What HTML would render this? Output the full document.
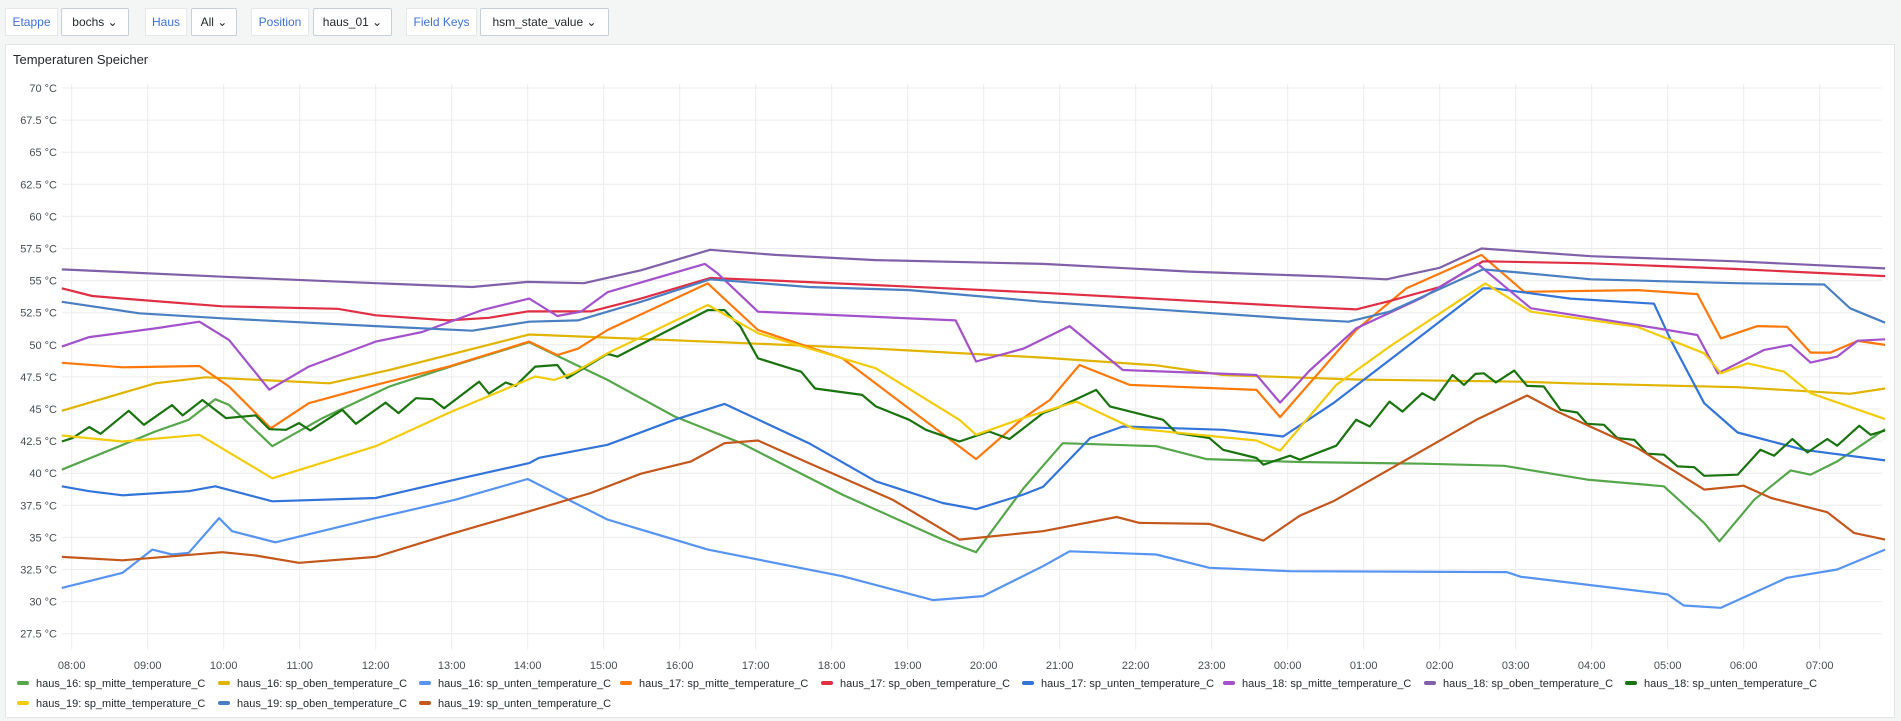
<!DOCTYPE html>
<html><head><meta charset="utf-8">
<style>
body{margin:0;width:1901px;height:721px;background:#f4f5f5;font-family:"Liberation Sans",sans-serif;overflow:hidden;position:relative}
.lbl,.sel{position:absolute;top:8px;height:28px;box-sizing:border-box;font-size:12px;line-height:26px;text-align:center}
.lbl{background:#fff;border:1px solid #e6e7e8;color:#3d71d9}
.sel{background:#fff;border:1px solid #c7d0d9;color:#24292e;border-radius:2px}
#panel{position:absolute;left:5px;top:44px;width:1890px;height:674px;background:#fff;border:1px solid #e4e5e6;box-sizing:border-box}
#title{position:absolute;left:13px;top:52px;font-size:13px;color:#24292e}
svg{position:absolute;left:0;top:0}
</style></head><body>
<div class="lbl" style="left:5px;width:53px">Etappe</div>
<div class="sel" style="left:61px;width:68px">bochs ⌄</div>
<div class="lbl" style="left:145px;width:42px">Haus</div>
<div class="sel" style="left:191px;width:46px">All ⌄</div>
<div class="lbl" style="left:251px;width:58px">Position</div>
<div class="sel" style="left:313px;width:79px">haus_01 ⌄</div>
<div class="lbl" style="left:406px;width:71px">Field Keys</div>
<div class="sel" style="left:480px;width:129px">hsm_state_value ⌄</div>
<div id="panel"></div>
<div id="title">Temperaturen Speicher</div>
<svg id="chart" width="1901" height="721"></svg>
<script>
const xTickLabels=["08:00","09:00","10:00","11:00","12:00","13:00","14:00","15:00","16:00","17:00","18:00","19:00","20:00","21:00","22:00","23:00","00:00","01:00","02:00","03:00","04:00","05:00","06:00","07:00"];
const yTicks=[27.5,30,32.5,35,37.5,40,42.5,45,47.5,50,52.5,55,57.5,60,62.5,65,67.5,70];
const seriesNames=["haus_16: sp_mitte_temperature_C","haus_16: sp_oben_temperature_C","haus_16: sp_unten_temperature_C","haus_17: sp_mitte_temperature_C","haus_17: sp_oben_temperature_C","haus_17: sp_unten_temperature_C","haus_18: sp_mitte_temperature_C","haus_18: sp_oben_temperature_C","haus_18: sp_unten_temperature_C","haus_19: sp_mitte_temperature_C","haus_19: sp_oben_temperature_C","haus_19: sp_unten_temperature_C"];
const seriesColors=["#56a64b","#e0b400","#5794f2","#ff780a","#e02f44","#3274d9","#a352cc","#8060a8","#19730e","#f2cc0c","#4a7fc1","#c4571c"];
// times = hours after 08:00
const h16mT=[-0.13,1.1,1.54,1.89,2.07,2.64,3.3,4.18,5.05,6.02,6.37,7.05,7.93,8.81,10.14,11.46,11.9,12.52,13.04,14.27,14.93,16.16,17.78,18.85,19.94,20.95,21.48,21.68,22.14,22.62,22.88,23.23,23.86];
const h16mV=[40.27,43.25,44.16,45.76,45.32,42.1,44.29,46.75,48.43,50.2,49.2,47.27,44.42,42.34,38.33,34.83,33.85,38.8,42.34,42.1,41.1,40.87,40.74,40.58,39.5,38.98,36.13,34.7,37.94,40.22,39.88,40.92,43.43];
const h16oT=[-0.13,1.1,1.76,3.39,4.18,6.02,8.37,10.58,12.78,14.27,15.15,16.9,19.1,19.72,21.92,23.4,23.86];
const h16oV=[44.86,47.0,47.47,47.0,48.04,50.8,50.25,49.7,49.0,48.4,47.65,47.3,47.13,47.0,46.7,46.18,46.6];
const h16uT=[-0.13,0.67,1.06,1.32,1.54,1.94,2.11,2.68,4.0,5.05,6.0,7.05,8.37,10.14,11.33,11.99,12.78,13.13,14.27,14.97,16.03,18.88,19.07,21.0,21.21,21.7,22.57,23.23,23.86];
const h16uV=[31.07,32.24,34.05,33.67,33.8,36.5,35.48,34.62,36.5,37.94,39.55,36.39,34.05,31.98,30.12,30.43,32.76,33.92,33.67,32.63,32.37,32.3,31.93,30.56,29.7,29.52,31.85,32.5,34.05];
const h17mT=[-0.13,0.67,1.68,2.07,2.62,3.12,4.0,4.96,6.02,6.39,6.66,7.05,8.37,9.03,10.14,11.9,12.52,12.87,13.26,13.92,15.59,15.9,16.9,17.56,18.55,19.11,20.6,21.39,21.7,22.18,22.57,22.88,23.14,23.5,23.86];
const h17mV=[48.6,48.25,48.35,46.75,43.5,45.45,46.88,48.3,50.25,49.2,49.7,51.15,54.78,51.15,48.95,41.1,44.29,45.7,48.43,46.88,46.49,44.37,51.15,54.39,57.0,54.13,54.26,53.95,50.5,51.46,51.4,49.39,49.39,50.3,49.99];
const h17oT=[-0.13,0.27,0.89,1.98,3.5,4.0,4.96,5.49,6.0,6.83,7.49,8.4,9.26,10.58,12.78,16.16,16.9,17.34,18.0,18.57,19.99,21.9,23.86];
const h17oV=[54.4,53.8,53.5,53.0,52.8,52.3,51.9,52.1,52.6,52.6,53.6,55.2,55.0,54.65,54.05,52.97,52.76,53.4,54.5,56.5,56.35,55.9,55.35];
const h17uT=[-0.13,0.23,0.67,1.54,1.89,2.64,4.0,5.05,6.02,6.15,7.05,7.93,8.59,9.7,10.58,11.46,11.9,12.52,12.78,13.4,13.83,15.15,15.94,16.6,18.57,18.71,19.72,20.82,21.04,21.48,21.92,22.79,23.86];
const h17uV=[38.98,38.6,38.28,38.6,38.98,37.81,38.07,39.5,40.79,41.2,42.21,44.16,45.4,42.34,39.37,37.68,37.2,38.33,38.93,42.73,43.64,43.38,42.86,45.45,54.39,54.39,53.6,53.2,50.38,45.45,43.17,41.82,41.0];
const h18mT=[-0.13,0.23,1.1,1.68,2.07,2.6,3.12,4.0,4.61,5.4,6.02,6.39,6.7,7.05,8.33,8.5,9.03,11.63,11.9,12.52,13.13,13.83,15.59,15.9,16.29,16.9,17.78,18.5,19.2,20.6,21.39,21.66,22.27,22.62,22.88,23.23,23.5,23.86];
const h18mV=[49.86,50.6,51.28,51.8,50.38,46.5,48.3,50.25,51.0,52.7,53.6,52.24,52.58,54.1,56.3,55.56,52.58,51.9,48.7,49.7,51.46,48.04,47.65,45.5,48.0,51.28,53.7,56.3,52.84,51.54,50.76,47.78,49.6,49.99,48.61,49.08,50.32,50.43];
const h18oT=[-0.13,1.98,4.0,5.27,6.0,6.74,7.49,8.4,9.26,10.58,12.78,14.71,16.16,16.6,17.3,18.0,18.55,19.99,21.9,23.86];
const h18oV=[55.87,55.3,54.8,54.5,54.9,54.8,55.8,57.4,57.0,56.6,56.3,55.7,55.4,55.3,55.1,56.0,57.5,56.9,56.5,55.95];
const h18uT=[-0.13,0.01,0.23,0.38,0.75,0.95,1.32,1.46,1.72,2.03,2.42,2.6,2.82,2.99,3.14,3.56,3.74,4.13,4.3,4.53,4.75,4.9,5.36,5.49,5.71,5.84,6.1,6.39,6.52,7.05,7.18,8.37,8.59,8.8,9.03,9.6,9.78,10.4,10.58,11.02,11.24,11.68,12.07,12.34,12.78,12.96,13.48,13.66,14.36,14.54,14.97,15.15,15.59,15.68,16.03,16.16,16.64,16.9,17.08,17.34,17.51,17.77,17.93,18.17,18.32,18.47,18.58,18.74,18.98,19.15,19.37,19.59,19.81,19.94,20.16,20.34,20.56,20.73,20.95,21.13,21.35,21.48,21.92,22.22,22.4,22.64,22.84,23.1,23.23,23.52,23.67,23.86];
const h18uV=[42.47,42.73,43.6,43.07,44.86,43.77,45.3,44.5,45.7,44.29,44.5,43.43,43.38,43.9,43.33,44.94,43.85,45.5,44.68,45.84,45.76,45.06,47.13,46.2,47.06,46.8,48.3,48.43,47.4,49.3,49.08,52.7,52.7,51.4,48.95,47.9,46.6,46.1,45.2,44.16,43.38,42.47,43.25,42.66,44.68,45.06,46.49,45.2,44.16,43.12,42.73,41.82,41.18,40.66,41.36,41.05,42.14,44.16,43.64,45.58,44.8,46.23,45.7,47.65,46.88,47.73,47.78,47.06,47.99,46.8,46.75,44.94,44.73,43.85,43.77,42.73,42.6,41.52,41.44,40.53,40.47,39.8,39.88,41.82,41.36,42.66,41.62,42.66,42.14,43.69,42.99,43.33];
const h19mT=[-0.13,0.67,1.68,2.64,4.0,4.96,6.1,6.35,6.6,7.05,8.37,9.03,10.58,11.68,11.9,12.52,13.22,13.96,15.59,15.9,16.64,17.34,18.6,19.2,20.6,21.48,21.7,22.05,22.53,22.88,23.86];
const h19mV=[42.94,42.47,42.99,39.6,42.1,44.7,47.53,47.27,47.8,49.34,53.1,50.9,48.17,44.16,42.99,44.29,45.58,43.5,42.55,41.75,46.88,49.86,54.78,52.58,51.4,49.34,47.78,48.56,47.91,46.23,44.21];
const h19oT=[-0.13,0.89,1.98,4.0,5.27,6.02,6.66,7.49,8.4,9.7,11.02,12.78,14.71,16.16,16.8,17.34,18.57,19.1,19.99,21.9,23.06,23.4,23.86];
const h19oV=[53.35,52.45,52.06,51.46,51.1,51.8,51.9,53.35,55.1,54.5,54.26,53.35,52.58,52.0,51.8,52.58,55.87,55.6,55.1,54.8,54.7,52.84,51.72];
const h19uT=[-0.13,0.67,1.98,2.42,2.99,4.0,4.96,6.02,6.83,7.49,8.15,8.59,9.03,9.7,10.8,11.68,12.78,13.75,14.05,14.97,15.68,16.16,16.6,18.5,19.15,19.55,20.6,21.48,22.0,22.36,23.1,23.45,23.86];
const h19uV=[33.48,33.22,33.85,33.59,33.02,33.48,35.22,37.03,38.46,39.96,40.92,42.34,42.55,40.79,37.94,34.83,35.48,36.59,36.13,36.05,34.75,36.7,37.81,44.21,46.05,44.8,41.96,38.72,39.03,38.07,36.96,35.35,34.83];

const seriesT=[h16mT,h16oT,h16uT,h17mT,h17oT,h17uT,h18mT,h18oT,h18uT,h19mT,h19oT,h19uT];
const seriesV=[h16mV,h16oV,h16uV,h17mV,h17oV,h17uV,h18mV,h18oV,h18uV,h19mV,h19oV,h19uV];

const NS="http://www.w3.org/2000/svg";
const svg=document.getElementById('chart');
const X0=62,X1=1882,T0=71.7,PXH=76;
const xS=t=>T0+t*PXH;
const yS=v=>88+(70-v)*12.84;
function mk(tag,at,parent){const e=document.createElementNS(NS,tag);for(const k in at)e.setAttribute(k,at[k]);(parent||svg).appendChild(e);return e;}
yTicks.forEach(v=>{
  const g=mk('line',{x1:X0,x2:X1,y1:yS(v),y2:yS(v),stroke:'#ececec','stroke-width':1});
  
  
  const t=mk('text',{x:57,y:yS(v)+4,'text-anchor':'end','font-size':11,fill:'#464c54','font-family':'Liberation Sans, sans-serif'});
  t.textContent=v+' °C';
  
  
});
xTickLabels.forEach((lab,i)=>{
  const g=mk('line',{x1:xS(i),x2:xS(i),y1:84,y2:650,stroke:'#ececec','stroke-width':1});
  
  
  const t=mk('text',{x:xS(i),y:669,'text-anchor':'middle','font-size':11,fill:'#464c54','font-family':'Liberation Sans, sans-serif'});
  t.textContent=lab;
  
  
});
seriesT.forEach((ts,i)=>{
  const d=ts.map((t,j)=>(j?'L':'M')+xS(t).toFixed(1)+' '+yS(seriesV[i][j]).toFixed(1)).join(' ');
  const p=mk('path',{d:d,fill:'none',stroke:seriesColors[i],'stroke-width':2.2,'stroke-linejoin':'round'});
  
  
});
seriesNames.forEach((n,i)=>{
  const row=i<9?0:1, col=i<9?i:i-9;
  const x=17+col*201, y=row?703:683;
  const g=mk('g',{});
  
  
  mk('rect',{x:x,y:y-2,width:12,height:4,rx:2,fill:seriesColors[i]},g);
  const t=mk('text',{x:x+19,y:y+4,'font-size':11,fill:'#24292e','font-family':'Liberation Sans, sans-serif'},g);
  t.textContent=n;
});
</script>
</body></html>
